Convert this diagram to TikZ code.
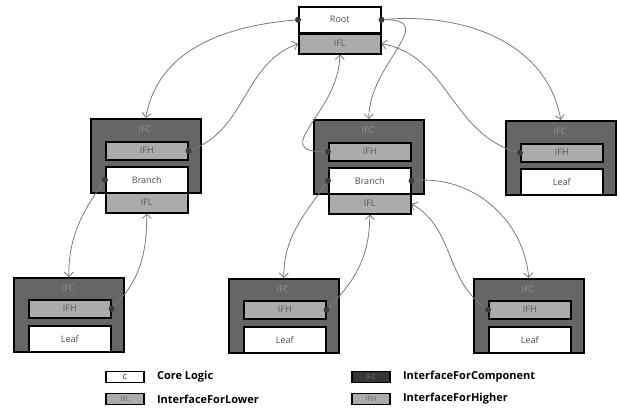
\documentclass[tikz,border=0pt]{standalone}
\usepackage{fontspec}
\setmainfont{Open Sans}
\usetikzlibrary{arrows.meta,positioning}
\definecolor{ifcfill}{HTML}{666666}
\definecolor{iffill}{HTML}{ABABAB}
\definecolor{keydark}{HTML}{363636}
\definecolor{linkgray}{HTML}{7A7A7A}
\definecolor{dotgray}{HTML}{3C3C3C}
\tikzset{
  box/.style={draw=black, line width=1.5pt, anchor=north west, inner sep=0pt, font=\fontsize{9}{10}\selectfont},
  ifc/.style={box, fill=ifcfill, minimum width=110pt, minimum height=74pt},
  ifbox/.style={box, fill=iffill, text=black!65, minimum width=82pt},
  core/.style={box, fill=white, text=black!70, minimum width=82pt, minimum height=26pt},
  ifctext/.style={text=black!42, font=\fontsize{9}{10}\selectfont},
  dot/.style={circle, fill=dotgray, inner sep=0pt, minimum size=6pt},
  link/.style={draw=linkgray, line width=0.8pt, -{Straight Barb[length=4.5pt,width=9pt]}},
  keybox/.style={draw=black, line width=1.6pt, minimum width=38pt, minimum height=11pt, inner sep=0pt, font=\fontsize{7}{8}\selectfont},
  keytext/.style={font=\fontsize{11}{12}\selectfont\bfseries, inner sep=0pt, anchor=west},
}
\begin{document}
\begin{tikzpicture}[x=1pt,y=1pt]
	\useasboundingbox (0,0) rectangle (620,-410);
	% root
	\node[core] (root) at (298,-6) {Root};
	\node[ifbox, minimum height=20pt] (rootifl) at (298,-33) {IFL};
	% branch left
	\node[ifc] (bAifc) at (90,-118) {};
	\node[ifctext] (bAlbl) at (145,-129) {IFC};
	\node[ifbox, minimum height=18pt] (bAifh) at (105,-141) {IFH};
	\node[core] (bA) at (105,-166) {Branch};
	\node[ifbox, minimum height=20pt] (bAifl) at (105,-192) {IFL};
	% branch middle
	\node[ifc] (bBifc) at (313,-119) {};
	\node[ifctext] (bBlbl) at (368,-130) {IFC};
	\node[ifbox, minimum height=18pt] (bBifh) at (328,-142) {IFH};
	\node[core] (bB) at (328,-167) {Branch};
	\node[ifbox, minimum height=20pt] (bBifl) at (328,-193) {IFL};
	% leaf right
	\node[ifc] (rCifc) at (505,-120) {};
	\node[ifctext] (rClbl) at (560,-131) {IFC};
	\node[ifbox, minimum height=18pt] (rCifh) at (520,-143) {IFH};
	\node[core] (rC) at (520,-168) {Leaf};
	% leaves below
	\node[ifc] (lAifc) at (13,-277) {};
	\node[ifctext] (lAlbl) at (68,-288) {IFC};
	\node[ifbox, minimum height=18pt] (lAifh) at (28,-299) {IFH};
	\node[core] (lA) at (28,-325) {Leaf};
	\node[ifc] (lBifc) at (228,-278) {};
	\node[ifctext] (lBlbl) at (283,-289) {IFC};
	\node[ifbox, minimum height=18pt] (lBifh) at (243,-300) {IFH};
	\node[core] (lB) at (243,-326) {Leaf};
	\node[ifc] (lCifc) at (473,-278) {};
	\node[ifctext] (lClbl) at (528,-289) {IFC};
	\node[ifbox, minimum height=18pt] (lCifh) at (488,-300) {IFH};
	\node[core] (lC) at (488,-326) {Leaf};
	% ports
	\node[dot] (rtL) at (root.west) {};
	\node[dot] (rtR) at (root.east) {};
	\node[dot] (bAdH) at (bAifh.east) {};
	\node[dot] (bAdB) at (bA.west) {};
	\node[dot] (bBdH) at (bBifh.west) {};
	\node[dot] (bBdB) at (bB.west) {};
	\node[dot] (bBdR) at (bB.east) {};
	\node[dot] (rCdH) at (rCifh.west) {};
	\node[dot] (lAdH) at (lAifh.east) {};
	\node[dot] (lBdH) at (lBifh.east) {};
	\node[dot] (lCdH) at (lCifh.west) {};
	% links
	\draw[link] (rtL) to[out=185,in=80] (bAifc.north);
	\draw[link] (bAdH) to[out=20,in=200] (rootifl.west);
	\draw[link] (rtR) to[out=0,in=90,looseness=1.4] (bBifc.north);
	\draw[link] (rtR) to[out=5,in=100] (rCifc.north);
	\draw[link] (bBdH) to[out=180,in=270,looseness=1.5] (rootifl.south);
	\draw[link] (rCdH) to[out=165,in=-10] (rootifl.east);
	\draw[link] (bAdB) to[out=235,in=90] (lAifc.north);
	\draw[link] (lAdH) to[out=45,in=270] (bAifl.south);
	\draw[link] (bBdB) to[out=235,in=90] (lBifc.north);
	\draw[link] (lBdH) to[out=45,in=270] (bBifl.south);
	\draw[link] (bBdR) to[out=5,in=95] (lCifc.north);
	\draw[link] (lCdH) to[out=145,in=-30] (bBifl.east);
	% key
	\node[keybox, fill=white] (kC) at (125,-377) {C};
	\node[keytext, right=12pt of kC] (kCt) {Core Logic};
	\node[keybox, fill=iffill, text=black!60] (kL) at (125,-399) {IFL};
	\node[keytext, right=12pt of kL] (kLt) {InterfaceForLower};
	\node[keybox, fill=keydark, text=black!55] (kI) at (371,-377) {IFC};
	\node[keytext, right=12pt of kI] (kIt) {InterfaceForComponent};
	\node[keybox, fill=iffill, text=black!60] (kH) at (371,-399) {IFH};
	\node[keytext, right=12pt of kH] (kHt) {InterfaceForHigher};
\end{tikzpicture}
\end{document}
